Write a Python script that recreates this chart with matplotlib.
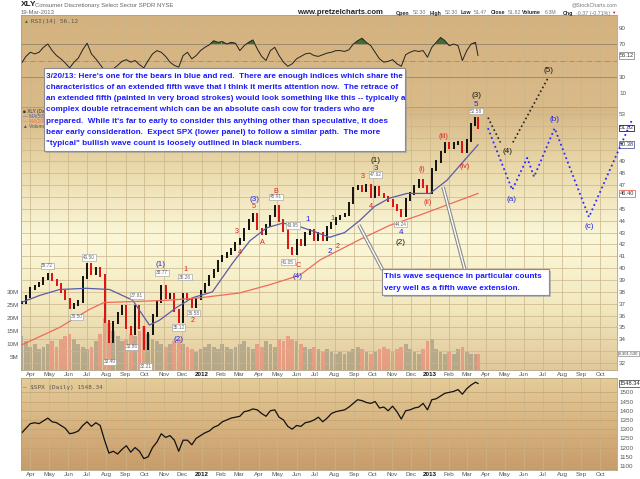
import matplotlib
matplotlib.use("Agg")
import matplotlib.pyplot as plt
import matplotlib.dates as mdates
from matplotlib.colors import LinearSegmentedColormap
from matplotlib.patches import Rectangle
import numpy as np
import pandas as pd

plt.rcParams['font.family'] = ['Liberation Sans', 'DejaVu Sans']

# weekly samples (last point = 19-Mar-2013)
weeks = list(pd.date_range("2011-03-18", "2013-03-15", freq="W-FRI")) + [pd.Timestamp("2013-03-19")]

xly_close = [37.1, 37.6, 38.3, 38.5, 38.7, 39.1, 39.5, 39.0, 38.6, 38.0,
             37.4, 36.7, 36.9, 37.2, 39.2, 40.3, 39.5, 40.0, 39.4, 35.5,
             33.8, 35.4, 36.2, 36.8, 35.0, 34.5, 36.8, 35.0, 33.2, 34.5,
             36.0, 37.2, 38.5, 37.5, 37.8, 36.4, 35.5, 37.8, 37.4, 36.8,
             37.4, 38.0, 38.6, 39.3, 39.8, 40.6, 41.0, 41.2, 41.6, 42.1,
             42.4, 43.3, 44.0, 44.5, 43.3, 42.9, 43.6, 44.4, 45.2, 44.0,
             43.2, 41.7, 41.2, 42.3, 42.0, 42.9, 43.2, 42.4, 42.9, 42.4,
             43.4, 43.8, 44.2, 44.4, 44.5, 45.5, 46.7, 46.9, 46.5, 47.0,
             46.0, 46.8, 46.2, 46.0, 45.7, 45.3, 44.9, 44.4, 45.8, 46.3,
             46.9, 47.4, 46.9, 46.4, 48.3, 49.0, 49.8, 50.5, 50.2, 50.5,
             50.6, 49.8, 50.8, 52.1, 52.6, 51.82]

rsi = [47, 55, 60, 58, 60, 66, 70, 62, 56, 52,
       47, 41, 48, 53, 63, 71, 58, 52, 45, 38,
       30, 40, 44, 49, 51, 48, 50, 45, 41, 50,
       58, 62, 60, 55, 48, 44, 42, 56, 60, 52,
       56, 62, 66, 69, 74, 72, 73, 70, 72, 71,
       62, 68, 72, 75, 64, 55, 50, 62, 66, 56,
       48, 43, 46, 52, 55, 58, 59, 56, 55, 57,
       59, 60, 62, 62, 61, 63, 70, 74, 77, 72,
       68, 60, 52, 48, 49, 51, 46, 43, 57, 60,
       62, 61, 62, 54, 66, 72, 78, 74, 68, 70,
       68, 50, 62, 70, 72, 56.12]

volume = [13, 11, 9, 10, 8, 9, 10, 11, 9, 12,
          13, 14, 12, 10, 9, 8, 9, 11, 14, 20,
          18, 15, 13, 11, 12, 14, 13, 15, 17, 14,
          12, 11, 10, 9, 10, 11, 12, 10, 9, 8,
          7, 8, 9, 10, 9, 8, 10, 9, 8, 9,
          10, 11, 9, 8, 10, 9, 11, 10, 9, 12,
          11, 13, 12, 11, 10, 9, 8, 9, 8, 7,
          8, 7, 6, 7, 6, 7, 8, 9, 8, 7,
          6, 7, 8, 9, 8, 7, 8, 9, 10, 8,
          7, 6, 8, 11, 12, 8, 7, 6, 7, 6,
          8, 9, 7, 6, 6, 6.3]

spx = [1279, 1305, 1330, 1335, 1330, 1345, 1360, 1340, 1335, 1320,
       1305, 1275, 1280, 1290, 1320, 1340, 1315, 1335, 1320, 1240,
       1170, 1180, 1165, 1190, 1210, 1175, 1200, 1180, 1140, 1150,
       1200, 1230, 1275, 1255, 1265, 1240, 1180, 1240, 1240, 1215,
       1250, 1265, 1280, 1290, 1310, 1320, 1340, 1350, 1360, 1365,
       1370, 1395, 1400, 1410, 1405, 1385, 1370, 1400, 1405, 1365,
       1350, 1315, 1300, 1320, 1315, 1335, 1340, 1350, 1365, 1340,
       1360, 1385, 1395, 1400, 1405, 1420, 1440, 1460, 1455, 1445,
       1440, 1450, 1415, 1420, 1400, 1425, 1395, 1355, 1400, 1405,
       1415, 1420, 1440, 1405, 1460, 1465, 1480, 1495, 1500, 1505,
       1515, 1490, 1520, 1540, 1555, 1548.34]

ma50_dates = ["2011-03-17", "2011-04-16", "2011-05-18", "2011-06-30", "2011-08-06", "2011-09-12",
              "2011-10-09", "2011-10-25", "2011-11-22", "2011-12-17", "2012-01-18", "2012-02-19",
              "2012-03-18", "2012-04-14", "2012-05-10", "2012-06-06", "2012-07-04", "2012-07-24",
              "2012-08-17", "2012-09-10", "2012-10-04", "2012-10-28", "2012-11-25", "2013-01-01",
              "2013-01-28", "2013-03-19"]
ma50_vals = [37.1, 37.7, 38.2, 38.3, 38.2, 37.3, 35.2, 35.6, 36.7, 37.5, 38.0, 40.4,
             42.3, 43.4, 43.8, 43.5, 43.0, 42.6, 43.0, 44.0, 45.2, 45.9, 46.3, 46.3,
             47.4, 50.4]
ma200_dates = ["2011-03-17", "2011-05-18", "2011-07-04", "2011-07-28", "2011-09-23", "2011-11-10",
               "2011-12-29", "2012-03-01", "2012-04-19", "2012-06-06", "2012-07-09", "2012-09-10",
               "2012-10-28", "2012-12-17", "2013-03-19"]
ma200_vals = [33.5, 35.0, 36.5, 37.1, 37.2, 37.3, 37.5, 37.9, 38.6, 39.4, 40.7, 42.4,
              43.6, 44.5, 46.3]

# projected paths
bear_dates = ["2013-04-04", "2013-05-13", "2013-06-06", "2013-06-17", "2013-07-20", "2013-09-13", "2013-11-21"]
bear_vals = [51.8, 46.6, 49.3, 47.7, 51.8, 44.3, 52.5]
bull1_dates = ["2013-04-04", "2013-04-24"]
bull1_vals = [52.7, 50.6]
bull2_dates = ["2013-05-14", "2013-07-10"]
bull2_vals = [50.6, 56.1]

blue_lbl = [("2011-10-27", 40.3, "(1)"), ("2011-11-25", 34.0, "(2)"), ("2012-03-26", 45.8, "(3)"),
            ("2012-06-03", 39.3, "(4)"), ("2012-06-19", 44.1, "1"), ("2012-07-24", 41.4, "2"),
            ("2012-10-06", 48.4, "3"), ("2012-11-15", 43.0, "4"), ("2013-03-16", 53.8, "5"),
            ("2013-05-11", 45.75, "(a)"), ("2013-07-20", 52.5, "(b)"), ("2013-09-13", 43.5, "(c)")]
black_lbl = [("2012-10-06", 49.1, "(1)"), ("2012-11-15", 42.2, "(2)"), ("2013-03-16", 54.6, "(3)"),
             ("2013-05-06", 49.8, "(4)"), ("2013-07-10", 56.7, "(5)")]
red_lbl = [("2011-12-05", 39.85, "1"), ("2011-12-18", 35.6, "2"), ("2012-02-26", 43.1, "3"),
           ("2012-03-02", 41.3, "4"), ("2012-03-24", 45.2, "5"), ("2012-04-08", 42.2, "A"),
           ("2012-04-29", 46.5, "B"), ("2012-06-03", 40.2, "C"), ("2012-07-29", 44.2, "1"),
           ("2012-08-06", 41.8, "2"), ("2012-09-15", 47.7, "3"), ("2012-09-28", 45.2, "4"),
           ("2012-12-19", 48.3, "(i)"), ("2012-12-29", 45.5, "(ii)"), ("2013-01-23", 51.1, "(iii)"),
           ("2013-02-25", 48.6, "(iv)")]
val_lbl = [("2011-04-28", 40.2, "39.72"), ("2011-06-14", 35.9, "36.50"), ("2011-07-04", 40.9, "40.50"),
           ("2011-08-06", 32.1, "33.49"), ("2011-09-10", 33.35, "33.86"), ("2011-09-19", 37.7, "37.81"),
           ("2011-10-03", 31.7, "32.21"), ("2011-10-29", 39.6, "38.77"), ("2011-11-25", 35.0, "35.12"),
           ("2011-12-05", 39.25, "38.26"), ("2011-12-19", 36.2, "36.58"), ("2012-04-29", 46.0, "45.91"),
           ("2012-05-18", 40.5, "41.05"), ("2012-05-26", 43.6, "43.95"), ("2012-10-06", 47.9, "47.62"),
           ("2012-11-15", 43.7, "44.24"), ("2013-03-16", 53.25, "52.58")]

note1 = ["3/20/13: Here's one for the bears in blue and red.  There are enough indices which share the",
         "characteristics of an extended fifth wave that I think it merits attention now.  The retrace of",
         "an extended fifth (painted in very broad strokes) would look something like this -- typically a",
         "complex double retracement which can be an absolute cash cow for traders who are",
         "prepared.  While it's far to early to consider this anything other than speculative, it does",
         "bear early consideration.  Expect SPX (lower panel) to follow a similar path.  The more",
         "\"typical\" bullish wave count is loosely outlined in black numbers."]
note2 = ["This wave sequence in particular counts", "very well as a fifth wave extension."]
callouts = [(("2012-09-09", 43.64), ("2012-10-17", 39.85)), (("2013-01-22", 46.85), ("2013-02-26", 39.85))]

W, H = 640, 479
fig = plt.figure(figsize=(6.4, 4.79), dpi=100)

def px(x, y):
    return x / W, 1 - y / H

def rect(x0, y0, x1, y1):
    return [x0 / W, 1 - y1 / H, (x1 - x0) / W, (y1 - y0) / H]

def background(r, stops):
    bg = fig.add_axes(r, zorder=-1)
    cmap = LinearSegmentedColormap.from_list("bg", stops)
    bg.imshow(np.linspace(1, 0, 256).reshape(-1, 1), cmap=cmap, aspect="auto", extent=[0, 1, 0, 1])
    bg.axis("off")

r_rsi = rect(21, 15, 617, 107)
r_px = rect(21, 107, 617, 370)
r_spx = rect(21, 378, 617, 470)
background(r_rsi, [(0, "#d9ba89"), (1, "#d4b27f")])
background(r_px, [(0, "#e0c89a"), (0.25, "#f3e9c0"), (0.5, "#fbf8d9"), (0.75, "#ecdcae"), (1, "#d6b684")])
background(r_spx, [(0, "#c79b69"), (0.5, "#d7b480"), (1, "#e4cc99")])

xlim = (pd.Timestamp("2011-03-17"), pd.Timestamp("2013-10-28"))
months = pd.date_range("2011-04-01", "2013-10-01", freq="MS")
mlabels = [m.strftime("%Y") if m.month == 1 else m.strftime("%b") for m in months]
grid_c = "#c9b58a"
spine_c = "#b0a080"

def style(a):
    a.set_facecolor("none")
    a.set_xlim(xlim)
    a.set_xticks(months)
    a.grid(axis="x", color=grid_c, lw=0.5)
    for s in a.spines.values():
        s.set_color(spine_c)
        s.set_linewidth(0.6)
    a.tick_params(length=0, labelsize=4.5, colors="#555555", pad=1.5)

def month_labels(a):
    a.set_xticklabels(mlabels)
    for t in a.get_xticklabels():
        if t.get_text().isdigit():
            t.set_fontweight("bold")
            t.set_color("#111111")

# RSI panel
ax_r = fig.add_axes(r_rsi)
style(ax_r)
ax_r.set_xticklabels([])
ax_r.set_ylim(-6.4, 105.2)
ax_r.yaxis.tick_right()
ax_r.set_yticks([10, 30, 50, 70, 90])
ax_r.set_yticklabels(["10", "30", "", "70", "90"])
ax_r.axhline(70, color="#9c8c6c", lw=0.7)
ax_r.axhline(30, color="#9c8c6c", lw=0.7)
ax_r.axhline(50, color="#9c8c6c", lw=0.6, ls="-.")
rsi_a = np.array(rsi)
ax_r.fill_between(weeks, rsi_a, 70, where=rsi_a > 70, interpolate=True, color="#3d7030", lw=0)
ax_r.plot(weeks, rsi, color="#222222", lw=0.7)
ax_r.text(1.004, 56.12, "56.12", transform=ax_r.get_yaxis_transform(), fontsize=4.1, va="center",
          color="#333333", bbox=dict(boxstyle="square,pad=0.15", fc="white", ec="#777777", lw=0.5))
ax_r.text(0.003, 0.93, "\u25b2", transform=ax_r.transAxes, fontsize=3.5, color="#3d7030", va="center")
ax_r.text(0.016, 0.93, "RSI(14) 56.12", transform=ax_r.transAxes, fontsize=4.3, color="#555555",
          va="center", family="DejaVu Sans Mono")

# price panel with volume underneath
ax_v = fig.add_axes(r_px)
style(ax_v)
month_labels(ax_v)
ax_v.set_ylim(0, 101)
ax_v.set_yticks([5, 10, 15, 20, 25, 30])
ax_v.set_yticklabels(["5M", "10M", "15M", "20M", "25M", "30M"])
opens = [xly_close[0]] + xly_close[:-1]
up = [c >= o for o, c in zip(opens, xly_close)]
vcol = ["#a49a82" if u else "#e88a78" for u in up]
ax_v.bar(weeks, volume, width=6, color=vcol, alpha=0.7, lw=0)
ax_v.text(1.003, 6.3, "6,301,500", transform=ax_v.get_yaxis_transform(), fontsize=3.2, va="center",
          color="#444444", bbox=dict(boxstyle="square,pad=0.12", fc="white", ec="#888888", lw=0.5))

ax = ax_v.twinx()
ax.set_facecolor("none")
ax.set_ylim(31.41, 53.59)
price_ticks = list(range(32, 54))
ax.set_yticks(price_ticks)
# labels sitting under the last-value boxes are covered in the original
ax.set_yticklabels(["" if t in (33, 46, 50, 51, 52) else str(t) for t in price_ticks])
ax.grid(axis="y", color=grid_c, lw=0.5)
ax.tick_params(length=0, labelsize=4.5, colors="#555555", pad=1.5)
for s in ax.spines.values():
    s.set_visible(False)

lo = np.minimum(opens, xly_close)
hi = np.maximum(opens, xly_close)
ccol = ["#111111" if u else "#dd1111" for u in up]
ax.vlines(weeks, lo - 0.12, hi + 0.12, colors=ccol, lw=1.4)
ax.plot(pd.to_datetime(ma50_dates), ma50_vals, color="#5b5ba6", lw=0.9)
ax.plot(pd.to_datetime(ma200_dates), ma200_vals, color="#f06a58", lw=0.9)

ax.plot(pd.to_datetime(bear_dates), bear_vals, ls=":", color="#2a2aff", lw=1.3, clip_on=False, zorder=5)
ax.plot(pd.to_datetime(bull1_dates), bull1_vals, ls=":", color="#222222", lw=1.2, clip_on=False, zorder=5)
ax.plot(pd.to_datetime(bull2_dates), bull2_vals, ls=":", color="#222222", lw=1.2, clip_on=False, zorder=5)

for d, v, t in blue_lbl:
    ax.text(pd.Timestamp(d), v, t, color="#2424e8", fontsize=5.8, ha="center", va="center", clip_on=False)
for d, v, t in black_lbl:
    ax.text(pd.Timestamp(d), v, t, color="#111111", fontsize=5.8, ha="center", va="center", clip_on=False)
for d, v, t in red_lbl:
    ax.text(pd.Timestamp(d), v, t, color="#e02020", fontsize=5.2, ha="center", va="center")
for d, v, t in val_lbl:
    ax.text(pd.Timestamp(d), v, t, color="#666666", fontsize=3.4, ha="center", va="center",
            bbox=dict(boxstyle="square,pad=0.15", fc="white", ec="#999999", lw=0.4))

for (d0, v0), (d1, v1) in callouts:
    xs = [pd.Timestamp(d0), pd.Timestamp(d1)]
    ax.plot(xs, [v0, v1], color="#8a8a8a", lw=2.6, solid_capstyle="butt", zorder=6)
    ax.plot(xs, [v0, v1], color="white", lw=1.0, solid_capstyle="butt", zorder=6)

for lbl, val, ec in [("51.82", 51.82, "#222222"), ("50.38", 50.4, "#5b5ba6"), ("46.40", 46.3, "#f06a58")]:
    ax.text(1.004, val, lbl, transform=ax.get_yaxis_transform(), fontsize=4.1, va="center",
            color="#333333", bbox=dict(boxstyle="square,pad=0.15", fc="white", ec=ec, lw=0.6))

for i, (t, c) in enumerate([("\u25a0 XLY (Daily)", "#333333"), ("\u2014 MA(50)", "#5b5ba6"),
                            ("\u2014 MA(200)", "#f06a58"), ("\u25b2 Volume", "#555555")]):
    fig.text(*px(23, 111 + i * 5.2), t, fontsize=3.4, color=c, va="center")

# SPX panel
ax_s = fig.add_axes(r_spx)
style(ax_s)
month_labels(ax_s)
ax_s.set_ylim(1078, 1578)
ax_s.yaxis.tick_right()
ax_s.set_yticks(range(1100, 1550, 50))
ax_s.grid(axis="y", color="#c4a273", lw=0.5)
ax_s.plot(weeks, spx, color="#111111", lw=0.9)
ax_s.text(1.004, 1548.34, "1548.34", transform=ax_s.get_yaxis_transform(), fontsize=4.1, va="center",
          color="#222222", bbox=dict(boxstyle="square,pad=0.15", fc="white", ec="#333333", lw=0.5))
ax_s.text(0.003, 0.9, "\u2014 $SPX (Daily) 1548.34", transform=ax_s.transAxes, fontsize=4.3,
          color="#555555", va="center", family="DejaVu Sans Mono")

# header
fig.text(*px(21, 5), "XLY", fontsize=6, fontweight="bold", color="#222222", va="center")
fig.text(*px(35, 5), "Consumer Discretionary Select Sector SPDR NYSE", fontsize=4.3, color="#666666", va="center")
fig.text(*px(21, 12), "19-Mar-2013", fontsize=4.2, color="#666666", va="center")
fig.text(*px(297, 13), "www.pretzelcharts.com", fontsize=5.6, fontweight="bold", color="#222222", va="center")
fig.text(*px(617, 5), "@StockCharts.com", fontsize=3.8, color="#777777", va="center", ha="right")
hdr = [(396, "Open", True), (413, "52.30", False), (430, "High", True), (445, "52.30", False),
       (461, "Low", True), (474, "51.47", False), (491, "Close", True), (508, "51.82", False),
       (522, "Volume", True), (545, "6.3M", False), (563, "Chg", True), (576, "-0.37 (-0.71%)", False)]
for x, t, b in hdr:
    fig.text(*px(x, 13), t, fontsize=3.8, va="center", fontweight="bold" if b else "normal",
             color="#222222" if b else "#777777")
fig.text(*px(611, 13), "\u25bc", fontsize=3.2, color="#dd1111", va="center")

# annotation boxes
def note(x0, y0, x1, y1, lines, ys):
    fig.patches.append(Rectangle(px(x0 + 2, y1 + 2), (x1 - x0) / W, (y1 - y0) / H,
                                 transform=fig.transFigure, fc="#9a9a9a", ec="none", zorder=8, alpha=0.6))
    fig.patches.append(Rectangle(px(x0, y1), (x1 - x0) / W, (y1 - y0) / H,
                                 transform=fig.transFigure, fc="white", ec="#8c8c8c", lw=0.8, zorder=9))
    for t, y in zip(lines, ys):
        fig.text(*px(x0 + 2, y), t, fontsize=5.85, fontweight="bold", color="#1c1cff", va="center", zorder=10)

note(44, 68, 405, 151, note1, [76 + 11.33 * k for k in range(7)])
note(382, 269, 549, 295, note2, [277, 288])

fig.savefig("out.png", dpi=100)
